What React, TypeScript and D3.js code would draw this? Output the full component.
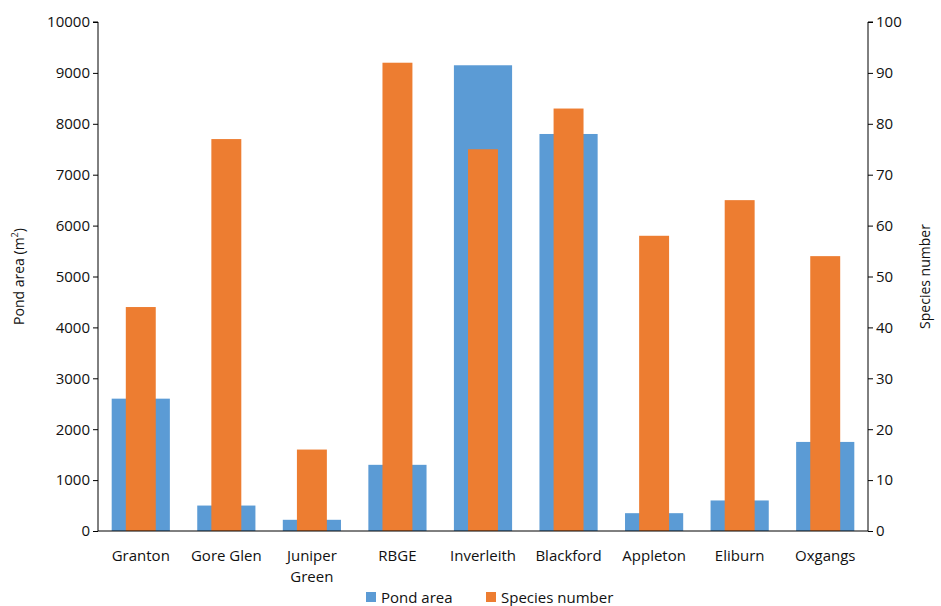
import { useEffect, useRef } from "react";
import * as d3 from "d3";

const sites = ["Granton", "Gore Glen", "Juniper Green", "RBGE", "Inverleith", "Blackford", "Appleton", "Eliburn", "Oxgangs"];
const pondArea = [2600, 500, 220, 1300, 9150, 7800, 350, 600, 1750];
const speciesNumber = [44, 77, 16, 92, 75, 83, 58, 65, 54];
const leftTicks = d3.range(0, 10001, 1000);
const rightTicks = d3.range(0, 101, 10);

const BLUE = "#5b9bd5";
const ORANGE = "#ed7d31";

export default function App() {
  const ref = useRef<SVGSVGElement>(null);

  useEffect(() => {
    const svg = d3.select(ref.current);
    svg.selectAll("*").remove();
    const left = 98, right = 868, top = 22, bottom = 531;
    const font = "'Open Sans', sans-serif";

    const x = d3.scaleBand().domain(sites).range([left, right]);
    const yL = d3.scaleLinear().domain([0, 10000]).range([bottom, top]);
    const yR = d3.scaleLinear().domain([0, 100]).range([bottom, top]);

    const bw = x.bandwidth() * 0.68;
    const ow = x.bandwidth() * 0.35;

    svg.append("g").selectAll("rect").data(sites).join("rect")
      .attr("x", (d) => x(d)! + (x.bandwidth() - bw) / 2)
      .attr("width", bw)
      .attr("y", (_, i) => yL(pondArea[i]))
      .attr("height", (_, i) => bottom - yL(pondArea[i]))
      .attr("fill", BLUE);

    svg.append("g").selectAll("rect").data(sites).join("rect")
      .attr("x", (d) => x(d)! + (x.bandwidth() - ow) / 2)
      .attr("width", ow)
      .attr("y", (_, i) => yR(speciesNumber[i]))
      .attr("height", (_, i) => bottom - yR(speciesNumber[i]))
      .attr("fill", ORANGE);

    const axisL = svg.append("g").attr("transform", `translate(${left},0)`)
      .call(d3.axisLeft(yL).tickValues(leftTicks).tickSize(5).tickFormat((d) => String(d)));
    const axisR = svg.append("g").attr("transform", `translate(${right},0)`)
      .call(d3.axisRight(yR).tickValues(rightTicks).tickSize(5).tickFormat((d) => String(d)));
    const axisB = svg.append("g").attr("transform", `translate(0,${bottom})`)
      .call(d3.axisBottom(x).tickSize(0).tickFormat(() => ""));
    [axisL, axisR, axisB].forEach((a) => {
      a.selectAll("path,line").attr("stroke", "#000");
      a.selectAll("text").attr("font-family", font).attr("font-size", 15).attr("fill", "#111");
    });
    axisL.select(".domain").attr("d", `M-5,${top}H0V${bottom}`);
    axisR.select(".domain").attr("d", `M5,${top}H0V${bottom}`);
    axisB.select(".domain").attr("d", `M${left},0H${right}`);

    sites.forEach((s) => {
      const words = s === "Juniper Green" ? ["Juniper", "Green"] : [s];
      words.forEach((w, j) => {
        svg.append("text").attr("x", x(s)! + x.bandwidth() / 2).attr("y", 561 + j * 21)
          .attr("text-anchor", "middle").attr("font-family", font).attr("font-size", 15)
          .attr("fill", "#111").text(w);
      });
    });

    const lt = svg.append("text").attr("transform", `translate(24,${(top + bottom) / 2}) rotate(-90)`)
      .attr("text-anchor", "middle").attr("font-family", font).attr("font-size", 14).attr("fill", "#111");
    lt.append("tspan").text("Pond area (m");
    lt.append("tspan").attr("font-size", 9).attr("dy", -6).text("2");
    lt.append("tspan").attr("dy", 6).text(")");

    svg.append("text").attr("transform", `translate(930,${(top + bottom) / 2}) rotate(-90)`)
      .attr("text-anchor", "middle").attr("font-family", font).attr("font-size", 14).attr("fill", "#111")
      .text("Species number");

    const legend = [["Pond area", BLUE, 366], ["Species number", ORANGE, 486]] as const;
    legend.forEach(([label, c, lx]) => {
      svg.append("rect").attr("x", lx).attr("y", 592).attr("width", 10).attr("height", 10).attr("fill", c);
      svg.append("text").attr("x", lx + 15).attr("y", 603).attr("font-family", font)
        .attr("font-size", 15).attr("fill", "#111").text(label);
    });
  }, []);

  return <svg ref={ref} width={941} height={606} style={{ position: "absolute", left: 0, top: 0, background: "#fff" }} />;
}
